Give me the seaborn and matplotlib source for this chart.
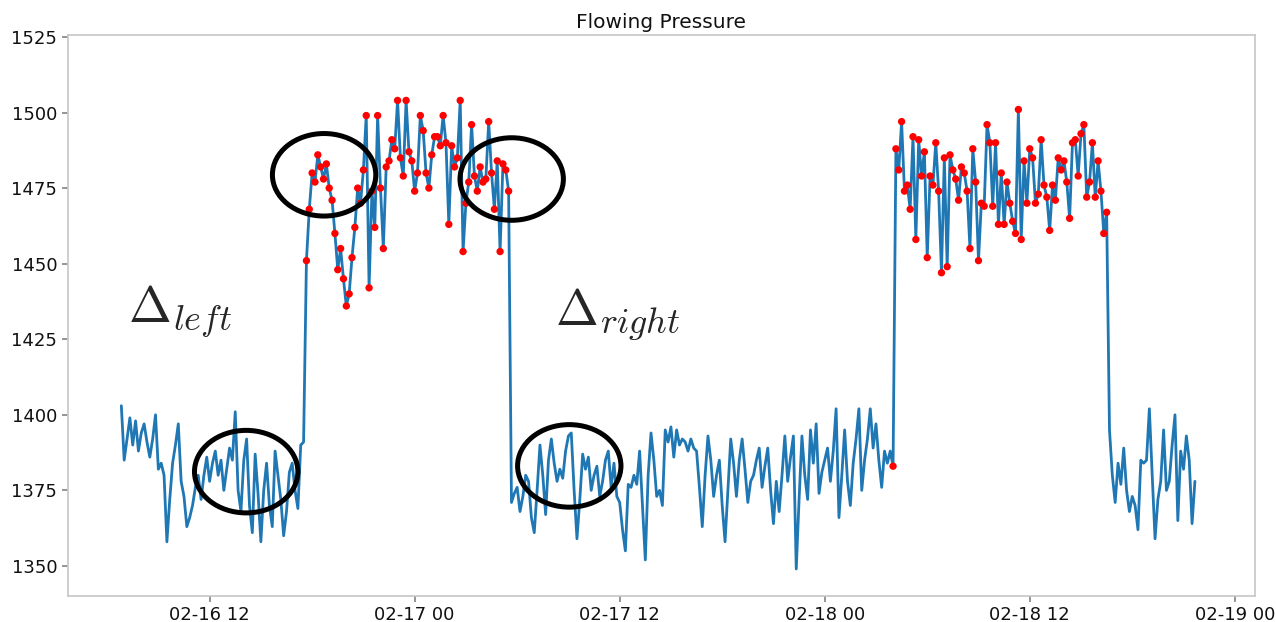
import pandas as pd
import matplotlib
matplotlib.use('Agg')
import matplotlib.pyplot as plt
import matplotlib.dates as mdates
from matplotlib.patches import Ellipse
import seaborn as sns

#Dados (leituras a cada 10 min)
inicio = '2019-02-16 06:50'

baixo_1 = [1403, 1385, 1392, 1399, 1390, 1398, 1388, 1394, 1397, 1391,
           1386, 1392, 1400, 1382, 1384, 1380, 1358, 1372, 1384, 1390,
           1397, 1378, 1373, 1363, 1366, 1370, 1376, 1380, 1372, 1380,
           1386, 1378, 1384, 1388, 1380, 1385, 1375, 1382, 1389, 1385,
           1401, 1375, 1368, 1385, 1392, 1370, 1361, 1387, 1374, 1358,
           1375, 1384, 1370, 1363, 1388, 1380, 1372, 1360, 1368, 1381,
           1384, 1375, 1369, 1390, 1391]

alto_1 = [1451, 1468, 1480, 1477, 1486, 1482, 1478, 1483, 1475, 1471,
          1460, 1448, 1455, 1445, 1436, 1440, 1452, 1462, 1475, 1470,
          1481, 1499, 1442, 1474, 1462, 1499, 1475, 1455, 1482, 1484,
          1491, 1488, 1504, 1485, 1479, 1504, 1487, 1484, 1474, 1480,
          1499, 1494, 1480, 1475, 1486, 1492, 1492, 1489, 1499, 1490,
          1463, 1489, 1482, 1485, 1504, 1454, 1470, 1477, 1496, 1479,
          1474, 1482, 1477, 1478, 1497, 1480, 1468, 1484, 1454, 1483,
          1481, 1474]

baixo_2 = [1371, 1374, 1376, 1368, 1373, 1380, 1378, 1366, 1361, 1375,
           1390, 1380, 1367, 1385, 1392, 1384, 1378, 1382, 1379, 1388,
           1393, 1394, 1375, 1359, 1372, 1387, 1382, 1386, 1375, 1380,
           1383, 1373, 1378, 1385, 1388, 1376, 1384, 1373, 1371, 1362,
           1355, 1377, 1376, 1380, 1377, 1388, 1370, 1352, 1380, 1394,
           1385, 1373, 1375, 1370, 1395, 1391, 1396, 1386, 1395, 1390,
           1392, 1391, 1388, 1392, 1389, 1388,
           1376, 1363, 1380, 1393, 1385, 1373, 1380, 1385, 1370, 1358,
           1375, 1392, 1384, 1373, 1385, 1392, 1382, 1371, 1378, 1380,
           1385, 1389, 1376, 1383, 1389, 1375, 1364, 1378, 1368, 1380,
           1393, 1378, 1386, 1393, 1349, 1372, 1393, 1380, 1372, 1395,
           1384, 1397, 1374, 1381, 1385, 1389, 1378, 1388, 1402, 1366,
           1380, 1395, 1378, 1370, 1384, 1392, 1402, 1375, 1385, 1392,
           1402, 1389, 1397, 1385, 1376, 1388, 1384, 1388]

alto_2 = [1383, 1488, 1481, 1497, 1474, 1476, 1468, 1492, 1458, 1491,
          1479, 1487, 1452, 1479, 1476, 1490, 1474, 1447, 1485, 1449,
          1486, 1481, 1478, 1471, 1482, 1480, 1474, 1455, 1488, 1477,
          1451, 1470, 1469, 1496, 1490, 1469, 1490, 1463, 1480, 1463,
          1477, 1470, 1464, 1460, 1501, 1458, 1484, 1470, 1488, 1485,
          1470, 1473, 1491, 1476, 1472, 1461, 1476, 1471, 1485, 1481,
          1484, 1477, 1465, 1490, 1491, 1479, 1493, 1496, 1472, 1477,
          1490, 1472, 1484, 1474, 1460, 1467]

baixo_3 = [1395, 1380, 1371, 1384, 1377, 1389, 1375, 1368, 1373, 1370,
           1362, 1385, 1384, 1385, 1402, 1380, 1359, 1372, 1378, 1395,
           1375, 1378, 1390, 1400, 1365, 1388, 1382, 1393, 1385, 1364,
           1378]

segmentos = [(baixo_1, False), (alto_1, True), (baixo_2, False),
             (alto_2, True), (baixo_3, False)]

pressao = []
aberto = []
for valores, flag in segmentos:
    pressao += valores
    aberto += [flag] * len(valores)

tempo = pd.date_range(inicio, periods=len(pressao), freq='10min')
dados = pd.DataFrame({'tempo': tempo, 'pressao': pressao, 'aberto': aberto})

y_ticks = [1350, 1375, 1400, 1425, 1450, 1475, 1500, 1525]


def t(horas):
    # horas a partir de 02-16 00:00 -> numero de data do matplotlib
    return mdates.date2num(pd.Timestamp('2019-02-16') + pd.Timedelta(hours=horas))


#Construção Gráfico
sns.set_theme(style='ticks')
plt.rcParams['font.family'] = ['DejaVu Sans']
plt.rcParams['mathtext.fontset'] = 'cm'

fig = plt.figure(figsize=(12.76, 6.22), dpi=100)
ax = fig.add_axes([0.053, 0.042, 0.9305, 0.902])

sns.lineplot(data=dados, x='tempo', y='pressao', ax=ax, color='#1f77b4',
             linewidth=2, estimator=None)
sns.scatterplot(data=dados[dados['aberto']], x='tempo', y='pressao', ax=ax,
                color='red', s=28, edgecolor='none', zorder=3)

# marcações
for hc, vc in [(14.14, 1381.2), (18.70, 1479.4), (29.68, 1478.0), (33.05, 1383.1)]:
    ax.add_patch(Ellipse((t(hc), vc), width=6.05 / 24, height=27.3,
                         fill=False, edgecolor='black', linewidth=3.6, zorder=4))

ax.text(t(7.2), 1430.6, r'$\Delta_{left}$', fontsize=37, ha='left', va='baseline')
ax.text(t(32.2), 1429.6, r'$\Delta_{right}$', fontsize=37, ha='left', va='baseline')

ax.set_xlim(t(3.69), t(73.18))
ax.set_ylim(1340.1, 1525.7)
ax.set_yticks(y_ticks)
ax.xaxis.set_major_locator(mdates.HourLocator(byhour=[0, 12]))
ax.xaxis.set_major_formatter(mdates.DateFormatter('%m-%d %H'))
ax.tick_params(labelsize=13, labelcolor='#111111', color='#888888', length=4)
for s in ax.spines.values():
    s.set_color('#c8c8c8')
ax.set_xlabel('')
ax.set_ylabel('')
ax.set_title('Flowing Pressure', fontsize=14.5, pad=5, color='#111111')

plt.savefig('out.png', dpi=100)
